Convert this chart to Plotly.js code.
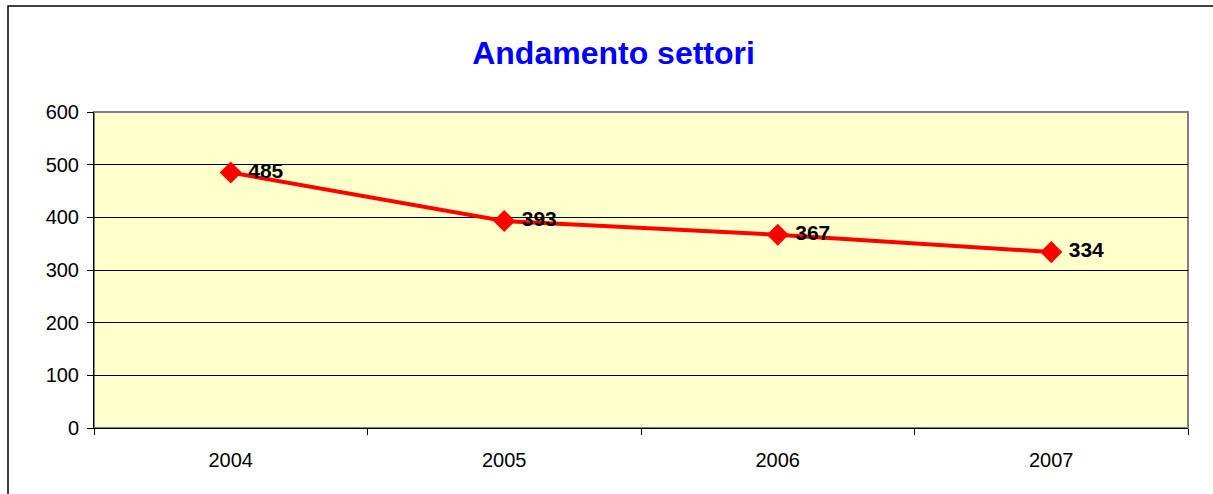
<!DOCTYPE html>
<html>
<head>
<meta charset="utf-8">
<script src="https://cdn.plot.ly/plotly-3.0.1.min.js"></script>
<style>
  html, body { margin: 0; padding: 0; background: #fff; }
  #plot { width: 1213px; height: 494px; }
</style>
</head>
<body>
<div id="plot"></div>
<script>
// chart data
let years = ['2004', '2005', '2006', '2007']
let settori = [485, 393, 367, 334]
let yTicks = [0, 100, 200, 300, 400, 500, 600]

let trace = {
    x: years,
    y: settori,
    text: settori.map(v => '\u00a0' + v),
    type: 'scatter',
    mode: 'lines+markers+text',
    textposition: 'middle right',
    textfont: { family: 'Liberation Sans, Arial, sans-serif', size: 21, color: '#000', weight: 'bold' },
    line: { color: '#FF0000', width: 4 },
    marker: { symbol: 'diamond', size: 17, color: '#FF0000' },
    cliponaxis: false,
    hoverinfo: 'none'
}

let layout = {
    width: 1213,
    height: 494,
    margin: { l: 94, r: 25, t: 112, b: 66 },
    paper_bgcolor: '#FFFFFF',
    plot_bgcolor: '#FFFFCC',
    showlegend: false,
    font: { family: 'Liberation Sans, Arial, sans-serif', size: 20, color: '#000' },
    title: {
        text: '<b>Andamento settori</b>',
        font: { family: 'Liberation Sans, Arial, sans-serif', size: 32, color: '#0000FF' },
        x: 0.5058, xanchor: 'center',
        y: 0.893, yanchor: 'middle'
    },
    xaxis: {
        type: 'category',
        range: [-0.5, 3.5],
        showline: true, linecolor: '#000', linewidth: 1,
        ticks: 'outside', tickson: 'boundaries', ticklen: 6, tickcolor: '#000',
        ticklabelstandoff: 14,
        showgrid: false, zeroline: false,
        tickfont: { size: 20 }
    },
    yaxis: {
        range: [0, 600],
        tickvals: yTicks,
        showline: true, linecolor: '#000', linewidth: 1,
        ticks: 'outside', ticklen: 6, tickcolor: '#000',
        ticklabelstandoff: 4,
        showgrid: true, gridcolor: '#000', gridwidth: 1,
        zeroline: false,
        tickfont: { size: 20 }
    },
    shapes: [
        // grey frame of the plot area
        { type: 'rect', xref: 'paper', yref: 'paper', x0: 0, x1: 1, y0: 0, y1: 1,
          line: { color: '#808080', width: 2 }, layer: 'below' },
        // outer chart border
        { type: 'rect', xref: 'paper', yref: 'paper', x0: -0.0786, x1: 1.1, y0: -0.4, y1: 1.3354,
          line: { color: '#000', width: 1.5 } }
    ]
}

Plotly.newPlot('plot', [trace], layout, { displayModeBar: false, staticPlot: true })
</script>
</body>
</html>
